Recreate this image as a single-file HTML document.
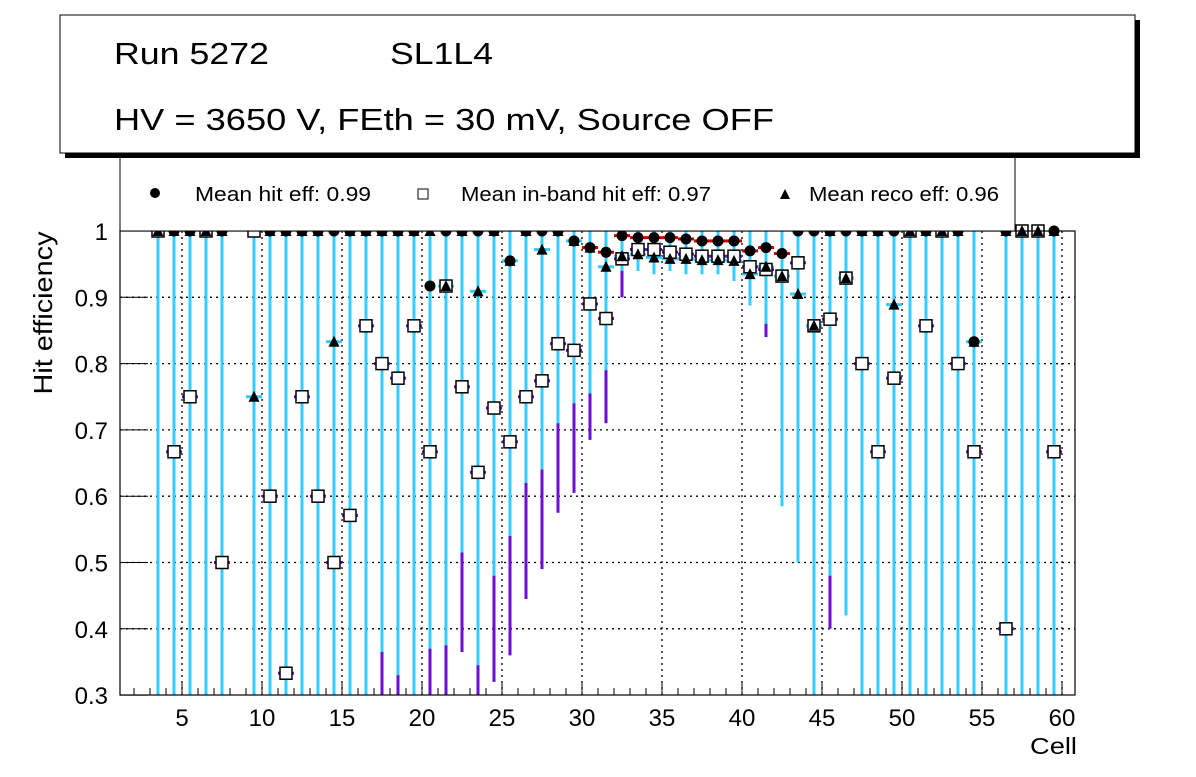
<!DOCTYPE html>
<html><head><meta charset="utf-8"><style>
body{margin:0;background:#fff;}
svg text{font-family:"Liberation Sans",sans-serif;}
</style></head><body>
<svg id="chart" width="1196" height="772" xmlns="http://www.w3.org/2000/svg">
<rect width="1196" height="772" fill="#fff"/>
<g id="grid"></g>
<g id="bars"></g>
<g id="marks"></g>
<rect x="120" y="231" width="955" height="464" fill="none" stroke="#000" stroke-width="1.2"/>
<g id="axes"></g>
<text x="1030" y="754" font-size="23" textLength="47" lengthAdjust="spacingAndGlyphs">Cell</text>
<text transform="translate(52,313) rotate(-90)" font-size="26" text-anchor="middle" textLength="163" lengthAdjust="spacingAndGlyphs">Hit efficiency</text>
<g>
<rect x="120" y="155" width="895" height="76" fill="#fff" stroke="#000" stroke-width="1"/>
<circle cx="155" cy="193" r="5" fill="#000"/>
<text x="195" y="201" font-size="20" textLength="176" lengthAdjust="spacingAndGlyphs">Mean hit  eff: 0.99</text>
<rect x="418" y="189" width="10" height="10" fill="#fff" stroke="#000"/>
<text x="461" y="201" font-size="20" textLength="250" lengthAdjust="spacingAndGlyphs">Mean in-band hit eff: 0.97</text>
<path d="M780,199 L785,189 L790,199 Z" fill="#000"/>
<text x="809" y="201" font-size="20" textLength="190" lengthAdjust="spacingAndGlyphs">Mean reco eff: 0.96</text>
</g>
<g>
<rect x="65" y="20" width="1075" height="138" fill="#000"/>
<rect x="60" y="15" width="1075" height="138" fill="#fff" stroke="#000" stroke-width="1"/>
<text x="114" y="64" font-size="31" textLength="155" lengthAdjust="spacingAndGlyphs">Run 5272</text>
<text x="390" y="64" font-size="31" textLength="103" lengthAdjust="spacingAndGlyphs">SL1L4</text>
<text x="114" y="130" font-size="31" textLength="660" lengthAdjust="spacingAndGlyphs">HV = 3650 V, FEth = 30 mV, Source OFF</text>
</g>
</svg>
<script>
const cells=[3.5,4.5,5.5,6.5,7.5,9.5,10.5,11.5,12.5,13.5,14.5,15.5,16.5,17.5,18.5,19.5,20.5,21.5,22.5,23.5,24.5,25.5,26.5,27.5,28.5,29.5,30.5,31.5,32.5,33.5,34.5,35.5,36.5,37.5,38.5,39.5,40.5,41.5,42.5,43.5,44.5,45.5,46.5,47.5,48.5,49.5,50.5,51.5,52.5,53.5,54.5,56.5,57.5,58.5,59.5];
const hitEff=[1,1,1,1,1,1,1,1,1,1,1,1,1,1,1,1,0.917,1,1,1,1,0.955,1,1,1,0.985,0.975,0.968,0.993,0.99,0.99,0.99,0.988,0.985,0.985,0.985,0.97,0.975,0.966,1,1,1,1,1,1,1,1,1,1,1,0.833,1,1,1,1];
const inbandEff=[1,0.667,0.75,1,0.5,1,0.6,0.333,0.75,0.6,0.5,0.571,0.857,0.8,0.778,0.857,0.667,0.917,0.765,0.636,0.733,0.682,0.75,0.774,0.83,0.82,0.89,0.868,0.958,0.972,0.972,0.968,0.965,0.962,0.962,0.962,0.946,0.942,0.932,0.952,0.857,0.867,0.929,0.8,0.667,0.778,1,0.857,1,0.8,0.667,0.4,1,1,0.667];
const recoEff=[1,1,1,1,1,0.75,1,1,1,1,0.833,1,1,1,1,1,1,0.917,1,0.909,1,0.955,1,0.972,1,0.985,0.975,0.946,0.962,0.965,0.96,0.958,0.958,0.956,0.956,0.955,0.935,0.946,0.932,0.905,0.857,1,0.929,1,1,0.889,1,1,1,1,0.833,1,1,1,1];
const recoLow=[0.2,0.2,0.2,0.2,0.2,0.2,0.2,0.2,0.2,0.2,0.2,0.2,0.2,0.365,0.33,0.2,0.37,0.375,0.515,0.345,0.48,0.54,0.62,0.64,0.71,0.74,0.755,0.79,0.94,0.94,0.935,0.94,0.935,0.935,0.935,0.925,0.888,0.86,0.585,0.5,0.2,0.48,0.42,0.2,0.2,0.2,0.2,0.2,0.2,0.2,0.2,0.2,0.2,0.2,0.2];
const inbandLow=[0.2,0.2,0.2,0.2,0.2,0.2,0.2,0.2,0.2,0.2,0.2,0.2,0.2,0.2,0.2,0.2,0.2,0.2,0.365,0.3,0.32,0.36,0.445,0.49,0.575,0.605,0.685,0.71,0.9,0.94,0.935,0.94,0.935,0.935,0.935,0.925,0.888,0.84,0.585,0.5,0.2,0.4,0.42,0.2,0.2,0.2,0.2,0.2,0.2,0.2,0.2,0.2,0.2,0.2,0.2];
const xTicks=[5,10,15,20,25,30,35,40,45,50,55,60];
const yTicks=[0.3,0.4,0.5,0.6,0.7,0.8,0.9,1];
const yTickLabels=["0.3","0.4","0.5","0.6","0.7","0.8","0.9","1"];

const NS="http://www.w3.org/2000/svg";
const X0=120,X1=1075,Y0=231,Y1=695;
function xs(c){return 102+16*c;}
function ys(v){return 231+(1-v)*663;}
function cl(y){return Math.max(Y0,Math.min(Y1,y));}
function mk(tag,attrs,parent){const e=document.createElementNS(NS,tag);for(const k in attrs)e.setAttribute(k,attrs[k]);document.getElementById(parent).appendChild(e);return e;}

xTicks.forEach((t,i)=>{
  const g=mk('line',{x1:xs(t),x2:xs(t),y1:Y0,y2:Y1,stroke:'#000','stroke-width':1.3,'stroke-dasharray':'2,4'},'grid');
  
  
  const tk=mk('line',{x1:xs(t),x2:xs(t),y1:Y1,y2:Y1-14,stroke:'#000'},'axes');
  
  
  const tx=mk('text',{x:xs(t),y:726,'font-size':24,'text-anchor':'middle'},'axes');
  tx.textContent=t;
  
  
});
for(let c=2;c<=60;c++){const m=mk('line',{x1:xs(c),x2:xs(c),y1:Y1,y2:Y1-7,stroke:'#000'},'axes');}
yTicks.forEach((t,i)=>{
  if(t>0.3&&t<1){const g=mk('line',{x1:X0,x2:X1,y1:ys(t),y2:ys(t),stroke:'#000','stroke-width':1.3,'stroke-dasharray':'2,4'},'grid');
  
  }
  const tk=mk('line',{x1:X0,x2:X0+28,y1:ys(t),y2:ys(t),stroke:'#000'},'axes');
  
  
  const tx=mk('text',{x:108,y:ys(t)+9,'font-size':24,'text-anchor':'end'},'axes');
  tx.textContent=yTickLabels[i];
  
  
});

cells.forEach((c,i)=>{
  const x=xs(c);
  const pb=mk('line',{x1:x,x2:x,y1:cl(ys(inbandEff[i])),y2:cl(ys(inbandLow[i])),stroke:'#6a0fcf','stroke-width':3},'bars');
  
  
  const cb=mk('line',{x1:x,x2:x,y1:Y0,y2:cl(ys(recoLow[i])),stroke:'#33ccff','stroke-width':3},'bars');
  
  
  if(inbandEff[i]<0.999){const h=mk('line',{x1:x-8,x2:x+8,y1:ys(inbandEff[i]),y2:ys(inbandEff[i]),stroke:'#6a0fcf','stroke-width':3},'bars');}
  if(recoEff[i]<0.999){const h=mk('line',{x1:x-8,x2:x+8,y1:ys(recoEff[i]),y2:ys(recoEff[i]),stroke:'#33ccff','stroke-width':3},'bars');}
  if(hitEff[i]<0.999&&c>30&&c<43){const h=mk('line',{x1:x-8,x2:x+8,y1:ys(hitEff[i]),y2:ys(hitEff[i]),stroke:'#cc0000','stroke-width':3},'bars');}
  const hy=ys(hitEff[i]);
  const hc=mk('circle',{cx:x,cy:hy,r:5.5,fill:'#000'},'marks');
  
  
  const sy=ys(inbandEff[i]);
  const sq=mk('rect',{x:x-6,y:sy-6,width:12,height:12,fill:'#fff',stroke:'#000','stroke-width':1.5},'marks');
  
  
  const ry=ys(recoEff[i]);
  const tr=mk('path',{d:`M${x-5.5},${ry+5} L${x},${ry-6} L${x+5.5},${ry+5} Z`,fill:'#000'},'marks');
  
  
});
</script>
</body></html>
